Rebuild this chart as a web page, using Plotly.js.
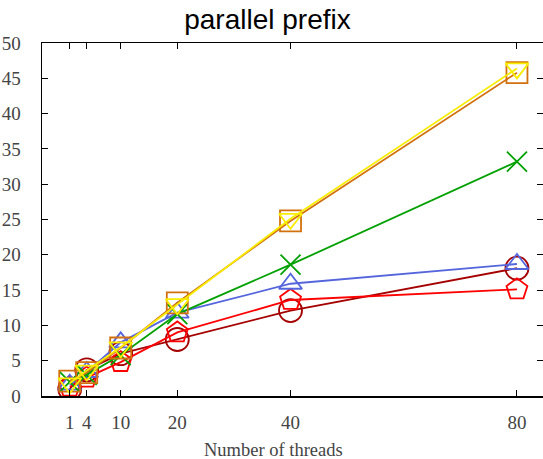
<!DOCTYPE html>
<html><head><meta charset="utf-8">
<script src="https://cdn.plot.ly/plotly-3.0.1.min.js"></script>
<style>html,body{margin:0;padding:0;background:#fff}#chart{width:543px;height:459px}</style>
</head><body><div id="chart"></div>
<script>
var threads = [1, 4, 10, 20, 40, 80];
var seriesDarkRed = [1.0, 3.7, 6.0, 8.0, 12.1, 18.1];
var seriesRed = [1.3, 2.6, 4.8, 9.0, 13.6, 15.1];
var seriesBlue = [1.6, 3.4, 7.6, 11.8, 15.9, 18.7];
var seriesGreen = [2.0, 3.0, 5.8, 11.6, 18.6, 33.2];
var seriesOrange = [2.1, 3.3, 6.8, 13.2, 24.8, 45.8];
var seriesYellow = [1.8, 3.6, 6.9, 13.0, 25.1, 46.4];
var xTicks = [1, 4, 10, 20, 40, 80];
var yTicks = [0, 5, 10, 15, 20, 25, 30, 35, 40, 45, 50];

function tr(y, color, symbol, size) {
  return {x: threads, y: y, mode: 'lines+markers', type: 'scatter',
    line: {color: color, width: 1.8},
    marker: {symbol: symbol, size: size, color: color, line: {color: color, width: 1.8}},
    showlegend: false, hoverinfo: 'skip'};
}
var data = [
  tr(seriesDarkRed, '#a50000', 'circle-open', 23),
  tr(seriesRed, '#ff0000', 'pentagon-open', 22),
  tr(seriesBlue, '#5566dd', 'triangle-up-open', 20),
  tr(seriesGreen, '#00a000', 'x-thin-open', 20),
  tr(seriesOrange, '#d2700e', 'square-open', 21),
  tr(seriesYellow, '#f8ec00', 'triangle-down-open', 20)
];
var tickFont = {family: 'Liberation Serif, serif', size: 19, color: '#444'};
var layout = {
  width: 543, height: 459,
  margin: {l: 42, r: 0, t: 43, b: 62.5, pad: 0},
  paper_bgcolor: '#fff', plot_bgcolor: '#fff',
  title: {text: 'parallel prefix', font: {family: 'Liberation Sans, Arial, sans-serif', size: 28, color: '#000'},
    xref: 'container', x: 0.4926, xanchor: 'center', yref: 'container', y: 0.958, yanchor: 'middle'},
  xaxis: {range: [-3.9, 84.6], tickmode: 'array', tickvals: xTicks, ticktext: xTicks.map(String),
    ticks: 'inside', ticklen: 6, tickcolor: '#000', showline: true, linecolor: '#000', linewidth: 1.5,
    mirror: 'allticks', showgrid: false, zeroline: false, tickfont: tickFont, ticklabelstandoff: 9},
  yaxis: {range: [0, 50], tickmode: 'array', tickvals: yTicks, ticktext: yTicks.map(String),
    ticks: 'inside', ticklen: 6, tickcolor: '#000', showline: true, linecolor: '#000', linewidth: 1.5,
    mirror: 'allticks', showgrid: false, zeroline: false, tickfont: tickFont, ticklabelstandoff: 16},
  annotations: [{text: 'Number of threads', xref: 'paper', yref: 'paper', x: 0.463, y: -0.154,
    xanchor: 'center', yanchor: 'middle', showarrow: false,
    font: {family: 'Liberation Serif, serif', size: 18.5, color: '#444'}}]
};
Plotly.newPlot('chart', data, layout, {staticPlot: true, displayModeBar: false});
</script></body></html>
